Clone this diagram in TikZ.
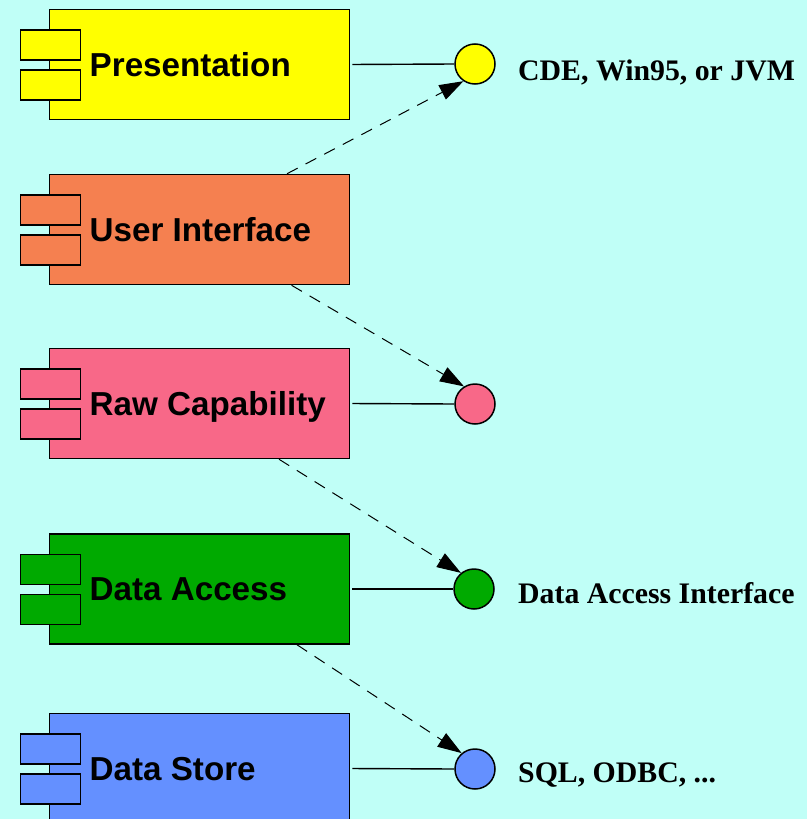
\documentclass[tikz,border=0pt]{standalone}
\usepackage{fontspec}
\setmainfont{Liberation Serif}
\newfontfamily\labelsans{Liberation Sans}
\usetikzlibrary{arrows.meta}

\definecolor{bgaqua}{RGB}{192,255,247}
\definecolor{cyellow}{RGB}{255,255,0}
\definecolor{corange}{RGB}{245,128,80}
\definecolor{cpink}{RGB}{248,104,136}
\definecolor{cgreen}{RGB}{0,170,0}
\definecolor{cblue}{RGB}{100,144,255}

\tikzset{
  compbox/.style={draw=black, line width=1.5pt, rectangle, inner sep=0pt,
    minimum width=300pt, minimum height=110pt},
  comptab/.style={draw=black, line width=1.5pt, rectangle, inner sep=0pt,
    minimum width=60pt, minimum height=30pt},
  complabel/.style={inner sep=0pt, font=\labelsans\bfseries\fontsize{33.2}{36}\selectfont},
  iface/.style={draw=black, line width=1.5pt, circle, inner sep=0pt, minimum size=40pt},
  ifacelabel/.style={inner sep=0pt, anchor=base west, font=\bfseries\fontsize{29.8}{34}\selectfont},
  realize/.style={line width=1.4pt, shorten <=2pt},
  depend/.style={line width=1pt, dash pattern=on 12pt off 9pt,
    -{Triangle[length=24pt,width=16pt]}},
}

% UML component: name, top edge, fill colour, label
\newcommand{\umlcomp}[4]{%
  \node[compbox, fill=#3] (#1) at (199.5,#2+55) {};
  \node[comptab, fill=#3, anchor=north west] (#1tabA) at (19.5,#2+19.5) {};
  \node[comptab, fill=#3, anchor=north west] (#1tabB) at (19.5,#2+59.5) {};
  \node[complabel, anchor=base west] (#1label) at (89.5,#2+66.8) {#4};
}

\begin{document}
\begin{tikzpicture}[x=1pt, y=-1pt]
  \clip (0,0) rectangle (807,819);
  \fill[bgaqua] (0,0) rectangle (807,819);

  % components
  \umlcomp{pres}{9.5}{cyellow}{Presentation}
  \umlcomp{ui}{174.5}{corange}{User Interface}
  \umlcomp{raw}{348.5}{cpink}{Raw Capability}
  \umlcomp{da}{534}{cgreen}{Data Access}
  \umlcomp{ds}{713.5}{cblue}{Data Store}

  % interfaces
  \node[iface, fill=cyellow] (presI) at (475,64) {};
  \node[iface, fill=cpink]   (rawI)  at (475,404) {};
  \node[iface, fill=cgreen]  (daI)   at (474,589) {};
  \node[iface, fill=cblue]   (dsI)   at (475,769) {};

  % interface labels
  \node[ifacelabel] (presIlabel) at (518,80)  {CDE, Win95, or JVM};
  \node[ifacelabel] (daIlabel)   at (518,603) {Data Access Interface};
  \node[ifacelabel] (dsIlabel)   at (518,782) {SQL, ODBC, ...};

  % realizations
  \draw[realize] (pres.east) -- (presI.west);
  \draw[realize] (raw.east)  -- (rawI.west);
  \draw[realize] (da.east)   -- (daI.west);
  \draw[realize] (ds.east)   -- (dsI.west);

  % dependencies
  \draw[depend] ([xshift=87.5pt]ui.north)  -- (presI.236);
  \draw[depend] ([xshift=92pt]ui.south)    -- (rawI.122);
  \draw[depend] ([xshift=79.5pt]raw.south) -- (daI.129);
  \draw[depend] ([xshift=97.5pt]da.south)  -- (dsI.130);
\end{tikzpicture}
\end{document}
